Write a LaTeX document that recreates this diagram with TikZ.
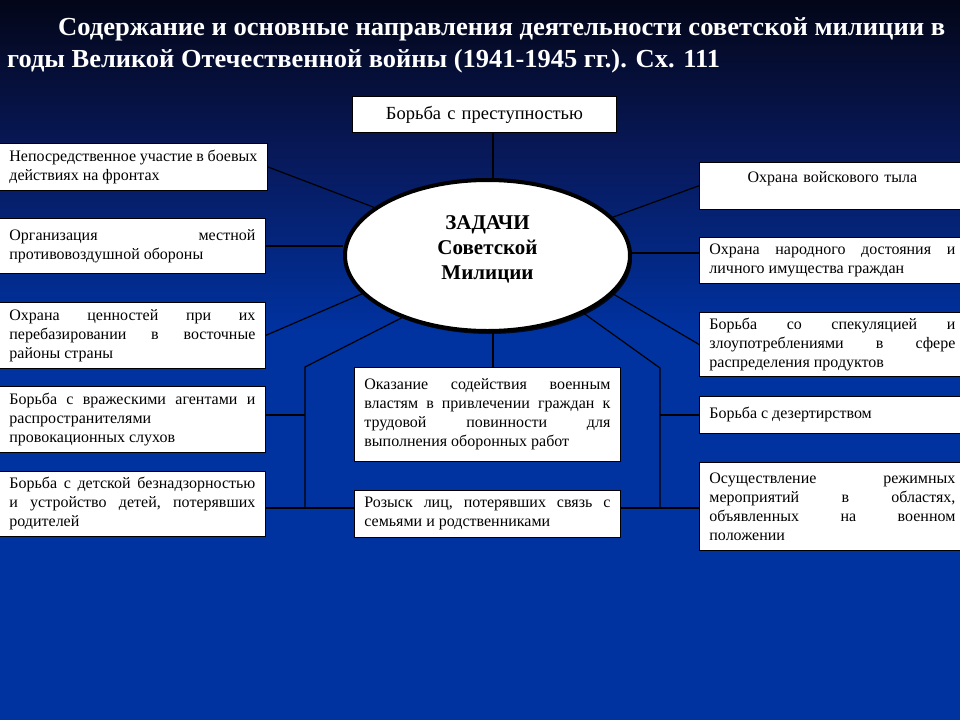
\documentclass[tikz,border=0pt]{standalone}
\usepackage{fontspec}
\setmainfont{Liberation Serif}
\usetikzlibrary{shapes.geometric,shadows}
\definecolor{bgtop}{RGB}{3,6,24}
\definecolor{bgmid}{RGB}{8,24,88}
\definecolor{bgblue}{RGB}{0,50,160}
\tolerance=10000
\hyphenpenalty=10000
\hbadness=10000
\hfuzz=20pt
\tikzset{
  taskbox/.style={draw=black, line width=0.8pt, fill=white, rectangle, anchor=north west,
    inner xsep=10pt, inner ysep=2pt, text width=#1, align=justify,
    font=\fontsize{16}{19}\selectfont},
  taskbox/.default=246pt,
  link/.style={draw=black, line width=1.2pt},
  titletext/.style={text=white, anchor=base west, inner sep=0pt, font=\fontsize{26}{30}\selectfont\bfseries}
}
\begin{document}
\begin{tikzpicture}[x=1pt,y=-1pt]
\useasboundingbox (0,0) rectangle (960,720);
% background
\shade[top color=bgtop, bottom color=bgmid] (0,0) rectangle (960,150);
\shade[top color=bgmid, bottom color=bgblue] (0,150) rectangle (960,330);
\fill[bgblue] (0,330) rectangle (960,720);

% title
\node[titletext] (title1) at (58,35) {\resizebox{887pt}{\height}{Содержание и основные направления деятельности советской милиции в}};
\node[titletext] (title2) at (7,67) {\resizebox{713pt}{\height}{годы Великой Отечественной войны (1941-1945 гг.). Сх. 111}};

% center ellipse
\node[ellipse, draw=black, line width=4pt, fill=white, minimum width=285pt, minimum height=151pt,
  drop shadow={shadow xshift=2pt, shadow yshift=-3pt, fill=black, opacity=0.8}] (E) at (487.5,255.5) {};
\node[align=center, font=\fontsize{21}{25}\selectfont\bfseries] (ET) at (487.5,249)
  {ЗАДАЧИ\\Советской\\Милиции};

% top box
\node[taskbox=244pt, minimum width=264pt, minimum height=36pt, align=center,
  font=\fontsize{18.5}{22}\selectfont] (T) at (352,96) {Борьба с~преступностью};

% left boxes
\node[taskbox=248pt, minimum width=268pt, minimum height=47pt] (L1) at (-1,143)
  {Непосредственное~участие~в~боевых\linebreak действиях~на~фронтах};
\node[taskbox, minimum width=266pt, minimum height=55pt] (L2) at (-1,218)
  {Организация~местной\linebreak противовоздушной~обороны};
\node[taskbox, minimum width=266pt, minimum height=66pt] (L3) at (-1,302)
  {Охрана~ценностей~при~их\linebreak перебазировании~в~восточные\linebreak районы~страны};
\node[taskbox, minimum width=266pt, minimum height=66pt] (L4) at (-1,386)
  {Борьба~с~вражескими~агентами~и\linebreak распространителями\newline провокационных~слухов};
\node[taskbox, minimum width=266pt, minimum height=65pt] (L5) at (-1,471)
  {Борьба~с~детской~безнадзорностью\linebreak и~устройство~детей,~потерявших\linebreak родителей};

% central lower boxes
\node[taskbox, minimum width=266pt, minimum height=94pt] (C1) at (354,367)
  {Оказание~содействия~военным\linebreak властям~в~привлечении~граждан~к\linebreak трудовой~повинности~для\linebreak выполнения~оборонных~работ};
\node[taskbox, minimum width=266pt, minimum height=47pt] (C2) at (354,490)
  {Розыск~лиц,~потерявших~связь~с\linebreak семьями~и~родственниками};

% right boxes
\node[taskbox, minimum width=266pt, minimum height=46pt, align=center] (R1) at (699,162)
  {\rule{0pt}{18pt}Охрана~войскового~тыла\\\strut};
\node[taskbox, minimum width=266pt, minimum height=46pt] (R2) at (699,237)
  {Охрана~народного~достояния~и\linebreak личного~имущества~граждан};
\node[taskbox, minimum width=266pt, minimum height=64pt] (R3) at (699,312)
  {Борьба~со~спекуляцией~и\linebreak злоупотреблениями~в~сфере\linebreak распределения~продуктов};
\node[taskbox, minimum width=266pt, minimum height=37pt] (R4) at (699,396)
  {Борьба~с~дезертирством};
\node[taskbox, minimum width=266pt, minimum height=88pt] (R5) at (699,462)
  {Осуществление~режимных\linebreak мероприятий~в~областях,\linebreak объявленных~на~военном\linebreak положении};

% helper coordinates
\coordinate (VX) at (493,0);
\coordinate (KL) at (305,367);
\coordinate (KR) at (660,368);
\coordinate (KB) at (0,508);
\coordinate (K4) at (0,415);
\coordinate (K2) at (0,253);

% connectors
\draw[link] (T.south -| VX) -- (E.north -| VX);
\draw[link] (E.south -| VX) -- (C1.north -| VX);
\draw[link] (L1.east) -- (E.157);
\draw[link] (L2.east) -- (L2.east -| E.west);
\draw[link] (L3.east) -- (E.197);
\draw[link] (E.216) -- (KL) -- (KL |- KB);
\draw[link] (L4.east |- K4) -- (KL |- K4);
\draw[link] (L5.east |- KB) -- (C2.west |- KB);
\draw[link] (E.17.5) -- (R1.west);
\draw[link] (E.east |- K2) -- (R2.west |- K2);
\draw[link] (E.343) -- (R3.west);
\draw[link] (E.329) -- (KR) -- (KR |- KB);
\draw[link] (KR |- K4) -- (R4.west |- K4);
\draw[link] (C2.east |- KB) -- (R5.west |- KB);
\end{tikzpicture}
\end{document}
